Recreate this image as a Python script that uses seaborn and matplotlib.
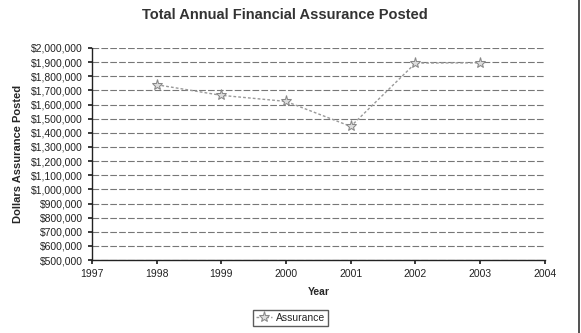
import matplotlib
matplotlib.use("Agg")
import matplotlib.pyplot as plt
import matplotlib.ticker as mticker
import seaborn as sns
import pandas as pd

years = [1998, 1999, 2000, 2001, 2002, 2003]
assurance = [1740000, 1665000, 1622000, 1445000, 1893000, 1895000]
series_name = "Assurance"
title = "Total Annual Financial Assurance Posted"
x_label = "Year"
y_label = "Dollars Assurance Posted"

df = pd.DataFrame({"Year": years, "Dollars": assurance, "Series": series_name})

sns.set_theme(style="white")
plt.rcParams['font.family'] = ['Liberation Sans', 'DejaVu Sans']

fig = plt.figure(figsize=(5.81, 3.33), dpi=100)
ax = fig.add_axes([0.158, 0.219, 0.78, 0.637])

sns.lineplot(data=df, x="Year", y="Dollars", hue="Series", palette=["#999999"],
             marker="*", markersize=8, markeredgecolor="#888888",
             markerfacecolor="#dddddd", linestyle=(0, (2, 1.5)), linewidth=1.0, ax=ax)

ax.set_xlim(1997, 2004)
ax.set_ylim(500000, 2000000)
ax.set_xticks(range(1997, 2005))
ax.set_yticks(range(500000, 2000001, 100000))
ax.yaxis.set_major_formatter(mticker.FuncFormatter(lambda v, p: "${:,.0f}".format(v)))
ax.tick_params(axis="both", labelsize=7.5, colors="#222222", length=3, direction="out",
               left=True, bottom=True)
ax.grid(axis="y", color="#777777", linewidth=0.8, linestyle=(0, (6, 2)))
for s in ["top", "right"]:
    ax.spines[s].set_visible(False)
for s in ["left", "bottom"]:
    ax.spines[s].set_color("#222222")
    ax.spines[s].set_linewidth(1.0)

ax.set_xlabel(x_label, fontsize=7.5, fontweight="bold", labelpad=6)
ax.set_ylabel(y_label, fontsize=8, fontweight="bold", labelpad=6)
fig.suptitle(title, x=0.49, y=0.975, fontsize=10.5, fontweight="bold", color="#333333")

handles, labels = ax.get_legend_handles_labels()
ax.legend_.remove()
fig.legend(handles, labels, loc="center", bbox_to_anchor=(0.5, 0.045), fontsize=7.5,
           frameon=True, fancybox=False, edgecolor="#333333", handlelength=1.5,
           borderpad=0.3, handletextpad=0.4)

fig.add_artist(plt.Line2D([0.997, 0.997], [0.0, 1.0], color="#333333", linewidth=1.2))

fig.savefig("out.png", dpi=100)
